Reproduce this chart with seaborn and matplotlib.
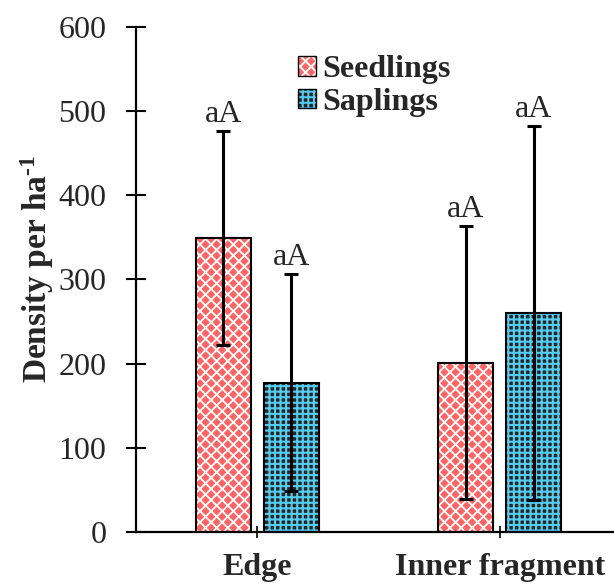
import pandas as pd
import matplotlib
matplotlib.use('Agg')
import matplotlib.pyplot as plt
import seaborn as sns
from matplotlib.colors import to_rgba
from matplotlib.patches import Patch

# data
sites = ['Edge', 'Inner fragment']
groups = ['Seedlings', 'Saplings']
seedlings_mean = [349, 201]
seedlings_err = [127, 162]
saplings_mean = [177, 260]
saplings_err = [129, 222]
letters = {'Seedlings': ['aA', 'aA'], 'Saplings': ['aA', 'aA']}

df = pd.DataFrame({
    'site': sites * 2,
    'group': [groups[0]] * 2 + [groups[1]] * 2,
    'density': seedlings_mean + saplings_mean,
})
errs = {groups[0]: seedlings_err, groups[1]: saplings_err}

sns.set_style('white')
plt.rcParams['font.family'] = ['Liberation Serif', 'DejaVu Serif']
plt.rcParams['mathtext.fontset'] = 'custom'
plt.rcParams['mathtext.rm'] = 'Liberation Serif:bold'
plt.rcParams['mathtext.bf'] = 'Liberation Serif:bold'
plt.rcParams['mathtext.default'] = 'bf'
plt.rcParams['hatch.linewidth'] = 1.4

face = {'Seedlings': '#ff6464', 'Saplings': '#262626'}
hatch_col = {'Seedlings': 'white', 'Saplings': '#55ccf2'}
hatch = {'Seedlings': 'xxx', 'Saplings': '+++'}
hatch_lw = {'Seedlings': 1.3, 'Saplings': 1.5}


def style_hatch(p, g):
    try:
        p.set_hatchcolor(hatch_col[g])
    except AttributeError:
        p._hatch_color = to_rgba(hatch_col[g])
    if hasattr(p, 'set_hatch_linewidth'):
        p.set_hatch_linewidth(hatch_lw[g])


fig = plt.figure(figsize=(6.14, 5.87), dpi=100)
ax = fig.add_axes([0.221, 0.094, 0.779, 0.860])

sns.barplot(data=df, x='site', y='density', hue='group', hue_order=groups,
            order=sites, errorbar=None, width=0.56, gap=0.19, legend=False, ax=ax)

for cont, g in zip(ax.containers, groups):
    for i, p in enumerate(cont.patches):
        p.set_facecolor(face[g])
        p.set_edgecolor('black')
        p.set_linewidth(1.5)
        p.set_hatch(hatch[g])
        style_hatch(p, g)
        cx = p.get_x() + p.get_width() / 2
        top = p.get_height()
        ax.errorbar(cx, top, yerr=errs[g][i], fmt='none', ecolor='black',
                    elinewidth=2.2, capsize=5, capthick=2.2, zorder=5)
        ax.text(cx, top + errs[g][i] + 3, letters[g][i], ha='center', va='bottom', fontsize=23)

ax.set_ylim(0, 600)
ax.set_xlim(-0.5, 1.47)
ax.set_yticks(range(0, 601, 100))
ax.set_xlabel('')
ax.set_ylabel('Density per ha$^{\\text{-1}}$', fontsize=24, fontweight='bold')
ax.yaxis.set_label_coords(-0.166, 0.52)
ax.tick_params(axis='y', left=True, direction='inout', length=14, width=1.5,
               labelsize=23, pad=14, color='black')
ax.tick_params(axis='x', bottom=True, direction='inout', length=9, width=1.2,
               labelsize=23, pad=11, color='black')
for lab in ax.get_xticklabels():
    lab.set_fontweight('bold')
sns.despine(ax=ax)
for s in ['left', 'bottom']:
    ax.spines[s].set_linewidth(1.6)
    ax.spines[s].set_color('black')

handles = []
for g in groups:
    h = Patch(facecolor=face[g], edgecolor='black', hatch=hatch[g], linewidth=1.0)
    style_hatch(h, g)
    handles.append(h)
leg = ax.legend(handles, groups, loc='upper left', bbox_to_anchor=(0.34, 0.944), frameon=False,
                prop={'weight': 'bold', 'size': 23}, handlelength=0.55, handleheight=0.55,
                handletextpad=0.2, labelspacing=0.12, borderaxespad=0, borderpad=0)

fig.savefig('out.png', dpi=100)
